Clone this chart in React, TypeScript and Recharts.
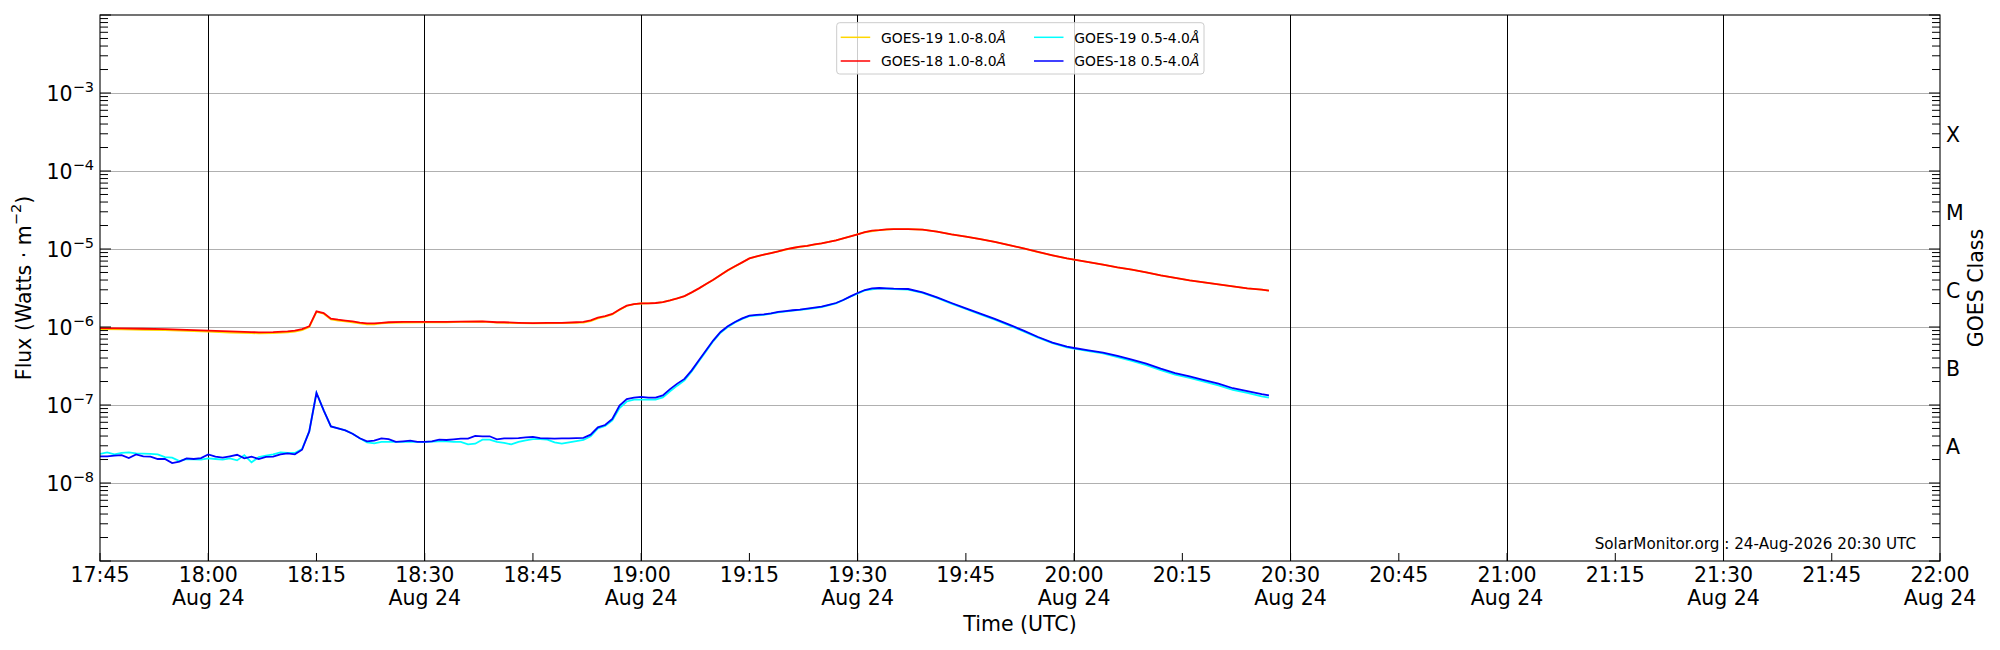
import React from 'react';
import { LineChart, Line, XAxis, YAxis, ReferenceLine } from 'recharts';

const FONT = '"DejaVu Sans", Verdana, sans-serif';

// ---- tick labels / categories ----
const xTickMinutes = [0, 15, 30, 45, 60, 75, 90, 105, 120, 135, 150, 165, 180, 195, 210, 225, 240, 255];
const xTickLabels = ['17:45', '18:00', '18:15', '18:30', '18:45', '19:00', '19:15', '19:30', '19:45', '20:00', '20:15', '20:30', '20:45', '21:00', '21:15', '21:30', '21:45', '22:00'];
const dateLabel = 'Aug 24';
const halfHourMinutes = [15, 45, 75, 105, 135, 165, 195, 225];
const decadeExponents = [-9, -8, -7, -6, -5, -4, -3, -2];
const gridExponents = [-8, -7, -6, -5, -4, -3];
const goesClasses = ['A', 'B', 'C', 'M', 'X'];
const classExponents = [-7.5, -6.5, -5.5, -4.5, -3.5];
const footerText = 'SolarMonitor.org : 24-Aug-2026 20:30 UTC';

// ---- series: [minutes after 17:45, flux W/m^2] ----
const goes19Long: [number, number][] = [
  [0, 9.4e-7], [3, 9.3e-7], [6, 9.2e-7], [9, 9.1e-7], [12, 8.9e-7], [15, 8.7e-7], [18, 8.5e-7], [21, 8.35e-7], [22, 8.3e-7], [24, 8.35e-7], [26, 8.55e-7], [27, 8.75e-7], [28, 9.1e-7], [29, 1.0e-6],
  [30, 1.56e-6], [31, 1.48e-6], [32, 1.25e-6], [33, 1.21e-6], [34, 1.18e-6], [35, 1.15e-6], [36, 1.11e-6], [37, 1.08e-6], [38, 1.08e-6], [39, 1.11e-6], [40, 1.13e-6], [42, 1.14e-6], [45, 1.15e-6], [48, 1.15e-6], [50, 1.16e-6], [53, 1.17e-6], [55, 1.14e-6], [58, 1.12e-6], [60, 1.11e-6], [64, 1.12e-6], [67, 1.14e-6],
  [68, 1.19e-6], [69, 1.29e-6], [70, 1.36e-6], [71, 1.45e-6], [72, 1.66e-6], [73, 1.86e-6], [74, 1.96e-6], [75, 2.0e-6], [77, 2.02e-6], [78, 2.08e-6], [79, 2.19e-6], [80, 2.32e-6], [81, 2.48e-6], [82, 2.77e-6], [83, 3.12e-6], [84, 3.55e-6], [85, 4.03e-6], [86, 4.64e-6], [87, 5.32e-6], [88, 5.99e-6], [89, 6.73e-6], [90, 7.58e-6],
  [92, 8.45e-6], [94, 9.32e-6], [96, 1.03e-5], [98, 1.1e-5], [100, 1.18e-5], [102, 1.29e-5], [104, 1.45e-5], [106, 1.64e-5], [108, 1.75e-5], [110, 1.8e-5], [112, 1.8e-5], [114, 1.77e-5], [116, 1.67e-5], [118, 1.54e-5], [120, 1.44e-5], [122, 1.34e-5], [124, 1.23e-5], [126, 1.12e-5], [128, 1.02e-5], [130, 9.15e-6],
  [132, 8.3e-6], [134, 7.59e-6], [135, 7.3e-6], [137, 6.81e-6], [139, 6.3e-6], [141, 5.82e-6], [143, 5.43e-6], [145, 5.02e-6], [147, 4.59e-6], [149, 4.25e-6], [151, 3.96e-6], [153, 3.74e-6], [155, 3.52e-6], [157, 3.32e-6], [159, 3.13e-6], [161, 3.01e-6], [162, 2.92e-6],
];

const goes18Long: [number, number][] = [
  [0, 9.7e-7], [3, 9.6e-7], [6, 9.5e-7], [9, 9.4e-7], [12, 9.2e-7], [15, 9.0e-7], [18, 8.8e-7], [21, 8.6e-7], [22, 8.55e-7], [24, 8.6e-7], [26, 8.8e-7], [27, 9.0e-7], [28, 9.4e-7], [29, 1.02e-6],
  [30, 1.59e-6], [31, 1.51e-6], [32, 1.28e-6], [33, 1.24e-6], [34, 1.21e-6], [35, 1.18e-6], [36, 1.14e-6], [37, 1.11e-6], [38, 1.11e-6], [39, 1.13e-6], [40, 1.15e-6], [42, 1.16e-6], [45, 1.16e-6], [48, 1.16e-6], [50, 1.17e-6], [53, 1.18e-6], [55, 1.15e-6], [56, 1.15e-6], [58, 1.13e-6], [60, 1.12e-6], [62, 1.13e-6], [64, 1.13e-6], [66, 1.15e-6], [67, 1.16e-6],
  [68, 1.22e-6], [69, 1.32e-6], [70, 1.38e-6], [71, 1.47e-6], [72, 1.68e-6], [73, 1.88e-6], [74, 1.97e-6], [75, 2.01e-6], [76, 2.01e-6], [77, 2.03e-6], [78, 2.09e-6], [79, 2.2e-6], [80, 2.33e-6], [81, 2.49e-6], [82, 2.78e-6], [83, 3.13e-6], [84, 3.56e-6], [85, 4.04e-6], [86, 4.65e-6], [87, 5.33e-6], [88, 6.0e-6], [89, 6.74e-6], [90, 7.59e-6],
  [91, 8.05e-6], [92, 8.46e-6], [93, 8.88e-6], [94, 9.33e-6], [95, 9.9e-6], [96, 1.03e-5], [97, 1.07e-5], [98, 1.1e-5], [99, 1.15e-5], [100, 1.18e-5], [101, 1.23e-5], [102, 1.29e-5], [103, 1.37e-5], [104, 1.45e-5], [105, 1.54e-5], [106, 1.64e-5], [107, 1.72e-5], [108, 1.75e-5], [109, 1.79e-5], [110, 1.8e-5],
  [112, 1.8e-5], [114, 1.77e-5], [116, 1.67e-5], [118, 1.54e-5], [120, 1.44e-5], [122, 1.34e-5], [124, 1.23e-5], [126, 1.12e-5], [128, 1.02e-5], [130, 9.16e-6], [132, 8.3e-6], [134, 7.59e-6], [135, 7.3e-6], [137, 6.81e-6], [139, 6.3e-6], [141, 5.82e-6], [143, 5.43e-6], [145, 5.02e-6],
  [147, 4.59e-6], [149, 4.25e-6], [151, 3.96e-6], [153, 3.74e-6], [155, 3.52e-6], [157, 3.32e-6], [159, 3.13e-6], [161, 3.01e-6], [162, 2.92e-6],
];

const goes19Short: [number, number][] = [
  [0, 2.36e-8], [1, 2.47e-8], [2, 2.33e-8], [3, 2.43e-8], [4, 2.47e-8], [5, 2.4e-8], [6, 2.38e-8], [7, 2.36e-8], [8, 2.33e-8], [9, 2.15e-8], [10, 2.11e-8], [11, 1.91e-8], [12, 2.03e-8], [13, 2.01e-8], [14, 1.99e-8], [15, 2.07e-8], [16, 2.03e-8], [17, 1.99e-8], [18, 2.07e-8], [19, 1.95e-8],
  [20, 2.28e-8], [21, 1.84e-8], [22, 2.15e-8], [23, 2.24e-8], [24, 2.33e-8], [25, 2.47e-8], [26, 2.43e-8], [27, 2.43e-8], [28, 2.73e-8], [29, 4.59e-8], [30, 1.43e-7], [31, 8.55e-8], [32, 5.32e-8], [33, 5.02e-8], [34, 4.73e-8], [35, 4.29e-8], [36, 3.74e-8], [37, 3.32e-8], [38, 3.23e-8], [39, 3.36e-8],
  [40, 3.36e-8], [41, 3.36e-8], [42, 3.36e-8], [43, 3.36e-8], [44, 3.36e-8], [45, 3.36e-8], [46, 3.39e-8], [47, 3.42e-8], [48, 3.42e-8], [49, 3.36e-8], [50, 3.36e-8], [51, 3.13e-8], [52, 3.19e-8], [53, 3.6e-8], [54, 3.6e-8], [55, 3.36e-8], [56, 3.26e-8], [57, 3.13e-8], [58, 3.36e-8], [59, 3.52e-8],
  [60, 3.66e-8], [61, 3.66e-8], [62, 3.6e-8], [63, 3.32e-8], [64, 3.2e-8], [65, 3.32e-8], [66, 3.45e-8], [67, 3.56e-8], [68, 3.96e-8], [69, 5.02e-8], [70, 5.4e-8], [71, 6.35e-8], [72, 9.16e-8], [73, 1.11e-7], [74, 1.17e-7], [75, 1.17e-7], [76, 1.17e-7], [77, 1.17e-7], [78, 1.25e-7], [79, 1.5e-7],
  [80, 1.77e-7], [81, 2.07e-7], [82, 2.7e-7], [83, 3.63e-7], [84, 4.9e-7], [85, 6.6e-7], [86, 8.45e-7], [87, 1.0e-6], [88, 1.14e-6], [89, 1.27e-6], [90, 1.38e-6], [92, 1.43e-6], [94, 1.54e-6], [96, 1.62e-6], [98, 1.7e-6], [100, 1.8e-6], [102, 2.01e-6], [104, 2.44e-6], [106, 2.95e-6], [108, 3.13e-6],
  [110, 3.07e-6], [112, 3.02e-6], [114, 2.74e-6], [116, 2.36e-6], [118, 1.99e-6], [120, 1.7e-6], [122, 1.45e-6], [124, 1.24e-6], [126, 1.05e-6], [128, 8.8e-7], [130, 7.3e-7], [132, 6.2e-7], [134, 5.5e-7], [135, 5.28e-7], [137, 4.92e-7], [139, 4.58e-7], [141, 4.12e-7], [143, 3.68e-7], [145, 3.25e-7],
  [147, 2.8e-7], [149, 2.45e-7], [151, 2.22e-7], [153, 1.99e-7], [155, 1.79e-7], [157, 1.56e-7], [159, 1.43e-7], [161, 1.29e-7], [162, 1.24e-7],
];

const goes18Short: [number, number][] = [
  [0, 2.2e-8], [1, 2.2e-8], [2, 2.24e-8], [3, 2.28e-8], [4, 2.09e-8], [5, 2.33e-8], [6, 2.2e-8], [7, 2.18e-8], [8, 2.03e-8], [9, 2.03e-8], [10, 1.8e-8], [11, 1.88e-8], [12, 2.07e-8], [13, 2.03e-8], [14, 2.09e-8], [15, 2.33e-8], [16, 2.18e-8], [17, 2.11e-8], [18, 2.2e-8], [19, 2.3e-8],
  [20, 2.07e-8], [21, 2.18e-8], [22, 2.03e-8], [23, 2.16e-8], [24, 2.18e-8], [25, 2.33e-8], [26, 2.4e-8], [27, 2.33e-8], [28, 2.67e-8], [29, 4.59e-8], [30, 1.43e-7], [31, 8.55e-8], [32, 5.32e-8], [33, 5.02e-8], [34, 4.73e-8], [35, 4.29e-8], [36, 3.74e-8], [37, 3.42e-8], [38, 3.49e-8], [39, 3.74e-8],
  [40, 3.66e-8], [41, 3.36e-8], [42, 3.42e-8], [43, 3.49e-8], [44, 3.36e-8], [45, 3.36e-8], [46, 3.42e-8], [47, 3.6e-8], [48, 3.56e-8], [49, 3.63e-8], [50, 3.7e-8], [51, 3.7e-8], [52, 4.01e-8], [53, 3.97e-8], [54, 3.97e-8], [55, 3.63e-8], [56, 3.74e-8], [57, 3.74e-8], [58, 3.76e-8], [59, 3.85e-8],
  [60, 3.89e-8], [61, 3.76e-8], [62, 3.74e-8], [63, 3.7e-8], [64, 3.74e-8], [65, 3.74e-8], [66, 3.76e-8], [67, 3.79e-8], [68, 4.17e-8], [69, 5.18e-8], [70, 5.54e-8], [71, 6.62e-8], [72, 9.8e-8], [73, 1.19e-7], [74, 1.24e-7], [75, 1.27e-7], [76, 1.24e-7], [77, 1.24e-7], [78, 1.33e-7], [79, 1.6e-7],
  [80, 1.88e-7], [81, 2.16e-7], [82, 2.78e-7], [83, 3.74e-7], [84, 5.02e-7], [85, 6.75e-7], [86, 8.63e-7], [87, 1.02e-6], [88, 1.16e-6], [89, 1.29e-6], [90, 1.4e-6], [91, 1.43e-6], [92, 1.45e-6], [93, 1.5e-6], [94, 1.56e-6], [95, 1.6e-6], [96, 1.64e-6], [97, 1.67e-6], [98, 1.72e-6], [99, 1.77e-6],
  [100, 1.82e-6], [101, 1.92e-6], [102, 2.03e-6], [103, 2.22e-6], [104, 2.47e-6], [105, 2.73e-6], [106, 2.98e-6], [107, 3.13e-6], [108, 3.16e-6], [109, 3.13e-6], [110, 3.1e-6], [112, 3.07e-6], [114, 2.78e-6], [116, 2.4e-6], [118, 2.03e-6], [120, 1.73e-6], [122, 1.48e-6], [124, 1.27e-6], [126, 1.07e-6],
  [128, 8.98e-7], [130, 7.45e-7], [132, 6.3e-7], [134, 5.6e-7], [135, 5.38e-7], [137, 5.02e-7], [139, 4.69e-7], [141, 4.25e-7], [143, 3.81e-7], [145, 3.39e-7], [147, 2.92e-7], [149, 2.57e-7], [151, 2.33e-7], [153, 2.09e-7], [155, 1.88e-7], [157, 1.64e-7], [159, 1.51e-7], [161, 1.38e-7], [162, 1.33e-7],
];

const seriesNames = ['GOES-19 1.0-8.0', 'GOES-18 1.0-8.0', 'GOES-19 0.5-4.0', 'GOES-18 0.5-4.0'];
const seriesColors = ['#FFD700', '#FF0000', '#00FFFF', '#0000FF'];

const toRows = (pts: [number, number][]) => pts.map(([t, flux]) => ({ t, flux }));

// ---- layout constants ----
const W = 2000;
const H = 650;
const PLOT_L = 100;
const PLOT_R = 1940;
const PLOT_T = 15;
const PLOT_B = 561;
const FS = 20.5;

const majorTicks = decadeExponents.map((e) => Math.pow(10, e));
const minorTicks: number[] = [];
decadeExponents.slice(0, -1).forEach((e) => {
  for (let m = 2; m <= 9; m++) minorTicks.push(m * Math.pow(10, e));
});
const classTicks = classExponents.map((e) => Math.pow(10, e));
const leftTicks = [...majorTicks, ...minorTicks].sort((a, b) => a - b);
const rightTicks = [...leftTicks, ...classTicks];

const isMajor = (v: number) => majorTicks.some((m) => Math.abs(v / m - 1) < 1e-6);
const classIndex = (v: number) => classTicks.findIndex((c) => Math.abs(v / c - 1) < 1e-6);

const XTick = (props: any) => {
  const { x, y, payload } = props;
  const i = xTickMinutes.indexOf(payload.value);
  const label = xTickLabels[i] ?? '';
  const withDate = label.endsWith(':00') || label.endsWith(':30');
  return (
    <g>
      <line x1={x} x2={x} y1={y} y2={y - 8} stroke="#000" strokeWidth={1} />
      <text x={x} y={y + 20.7} textAnchor="middle" fontFamily={FONT} fontSize={FS} fill="#000">{label}</text>
      {withDate && (
        <text x={x} y={y + 44} textAnchor="middle" fontFamily={FONT} fontSize={FS} fill="#000">{dateLabel}</text>
      )}
    </g>
  );
};

const YTickLeft = (props: any) => {
  const { x, y, payload } = props;
  const v = payload.value as number;
  const major = isMajor(v);
  const exp = Math.round(Math.log10(v));
  const showLabel = major && exp > -9 && exp < -2;
  return (
    <g>
      <line x1={x} x2={x + (major ? 11 : 8)} y1={y} y2={y} stroke="#000" strokeWidth={1} />
      {showLabel && (
        <text x={94} y={y + 8.4} textAnchor="end" fontFamily={FONT} fontSize={FS} fill="#000">
          10
          <tspan fontSize={14.5} dy={-9.7}>{'\u2212' + Math.abs(exp)}</tspan>
        </text>
      )}
    </g>
  );
};

const YTickRight = (props: any) => {
  const { x, y, payload } = props;
  const v = payload.value as number;
  const ci = classIndex(v);
  if (ci >= 0) {
    return (
      <text x={x + 6} y={y + 9.5} textAnchor="start" fontFamily={FONT} fontSize={FS} fill="#000">{goesClasses[ci]}</text>
    );
  }
  const major = isMajor(v);
  return <line x1={x} x2={x - (major ? 11 : 8)} y1={y} y2={y} stroke="#000" strokeWidth={1} />;
};

const Legend4 = () => {
  const cols = [[0, 1], [2, 3]];
  const colX = [840.7, 1034];
  const rowY = [37.3, 61];
  return (
    <g>
      <rect x={836.7} y={22.7} width={367.3} height={51.3} rx={3} ry={3} fill="#ffffff" fillOpacity={0.8} stroke="#cccccc" strokeWidth={1} />
      {cols.map((col, ci) =>
        col.map((si, ri) => (
          <g key={si}>
            <line x1={colX[ci]} x2={colX[ci] + 29.5} y1={rowY[ri]} y2={rowY[ri]} stroke={seriesColors[si]} strokeWidth={1.5} />
            <text x={colX[ci] + 40.3} y={rowY[ri] + 5.4} fontFamily={FONT} fontSize={13.9} fill="#000">
              {seriesNames[si]}
              <tspan fontStyle="italic">{'\u00C5'}</tspan>
            </text>
          </g>
        ))
      )}
    </g>
  );
};

export default function App() {
  const rows = [goes19Long, goes18Long, goes19Short, goes18Short].map(toRows);
  return (
    <div style={{ position: 'absolute', left: 0, top: 0, width: W, height: H, background: '#fff' }}>
      <LineChart width={W} height={H} margin={{ top: PLOT_T, right: 0, bottom: 0, left: 0 }}>
        <XAxis
          dataKey="t"
          type="number"
          domain={[0, 255]}
          allowDataOverflow
          ticks={xTickMinutes}
          interval={0}
          height={H - PLOT_B}
          tickSize={0}
          tickMargin={0}
          tickLine={false}
          axisLine={false}
          tick={<XTick />}
        />
        <YAxis
          yAxisId="left"
          type="number"
          scale="log"
          domain={[1e-9, 1e-2]}
          allowDataOverflow
          ticks={leftTicks}
          interval={0}
          width={PLOT_L}
          tickSize={0}
          tickMargin={0}
          tickLine={false}
          axisLine={false}
          tick={<YTickLeft />}
        />
        <YAxis
          yAxisId="right"
          orientation="right"
          type="number"
          scale="log"
          domain={[1e-9, 1e-2]}
          allowDataOverflow
          ticks={rightTicks}
          interval={0}
          width={W - PLOT_R}
          tickSize={0}
          tickMargin={0}
          tickLine={false}
          axisLine={false}
          tick={<YTickRight />}
        />
        {gridExponents.map((e) => (
          <ReferenceLine key={'h' + e} yAxisId="left" y={Math.pow(10, e)} stroke="#b0b0b0" strokeWidth={1} shapeRendering="crispEdges" />
        ))}
        {halfHourMinutes.map((m) => (
          <ReferenceLine key={'v' + m} yAxisId="left" x={m} stroke="#000000" strokeWidth={1} shapeRendering="crispEdges" />
        ))}
        <Line data={rows[0]} yAxisId="right" dataKey="flux" name={seriesNames[0]} stroke={seriesColors[0]} strokeWidth={1.8} dot={false} activeDot={false} type="linear" isAnimationActive={false} />
        <Line data={rows[1]} yAxisId="left" dataKey="flux" name={seriesNames[1]} stroke={seriesColors[1]} strokeWidth={1.8} dot={false} activeDot={false} type="linear" isAnimationActive={false} />
        <Line data={rows[2]} yAxisId="left" dataKey="flux" name={seriesNames[2]} stroke={seriesColors[2]} strokeWidth={1.8} dot={false} activeDot={false} type="linear" isAnimationActive={false} />
        <Line data={rows[3]} yAxisId="left" dataKey="flux" name={seriesNames[3]} stroke={seriesColors[3]} strokeWidth={1.8} dot={false} activeDot={false} type="linear" isAnimationActive={false} />
      </LineChart>
      <svg width={W} height={H} style={{ position: 'absolute', left: 0, top: 0, pointerEvents: 'none' }}>
        <rect x={PLOT_L} y={PLOT_T} width={PLOT_R - PLOT_L} height={PLOT_B - PLOT_T} fill="none" stroke="#000" strokeWidth={1.1} />
        <text x={1916} y={549} textAnchor="end" fontFamily={FONT} fontSize={15.2} fill="#000">{footerText}</text>
        <text x={(PLOT_L + PLOT_R) / 2} y={631} textAnchor="middle" fontFamily={FONT} fontSize={FS} fill="#000">Time (UTC)</text>
        <text transform={`translate(31, ${(PLOT_T + PLOT_B) / 2}) rotate(-90)`} textAnchor="middle" fontFamily={FONT} fontSize={FS} fill="#000">
          {'Flux (Watts \u00B7 m'}
          <tspan fontSize={14.5} dy={-9.7}>{'\u22122'}</tspan>
          <tspan dy={9.7}>)</tspan>
        </text>
        <text transform={`translate(1983, ${(PLOT_T + PLOT_B) / 2}) rotate(-90)`} textAnchor="middle" fontFamily={FONT} fontSize={FS} fill="#000">GOES Class</text>
        <Legend4 />
      </svg>
    </div>
  );
}
